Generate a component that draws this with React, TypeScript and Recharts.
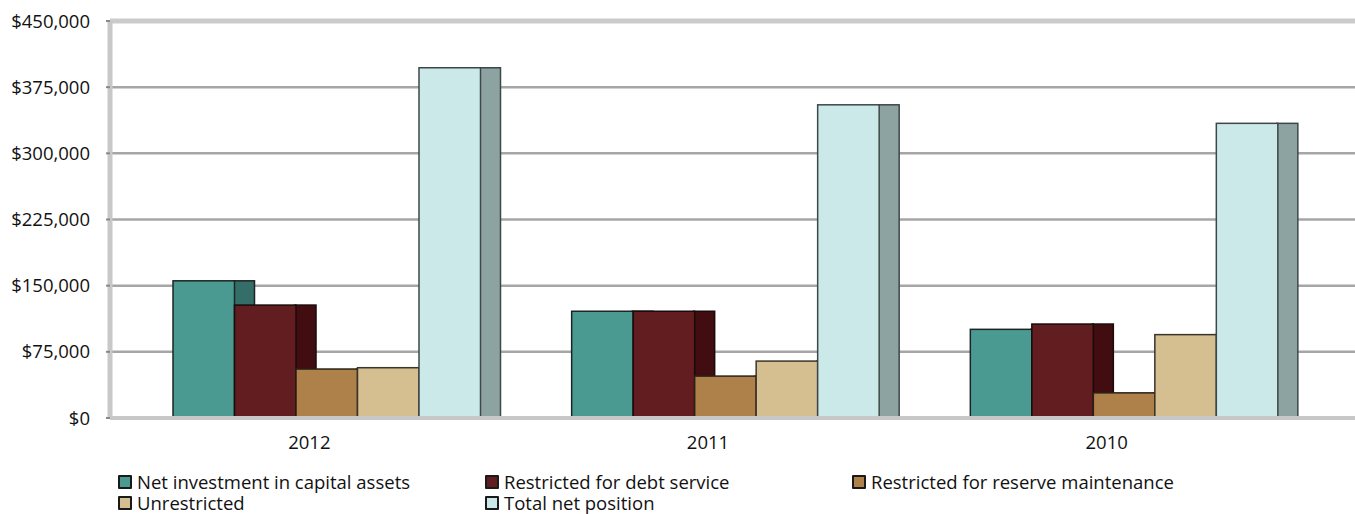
import { BarChart, Bar, XAxis, YAxis, CartesianGrid, ReferenceLine } from 'recharts'

const years = ['2012', '2011', '2010']
const netInvestment = [155500, 121000, 100500]
const debtService = [128000, 121000, 106500]
const reserveMaint = [55500, 47500, 28500]
const unrestricted = [57000, 64500, 94500]
const totalNet = [397000, 355000, 334000]
const yTicks = [0, 75000, 150000, 225000, 300000, 375000, 450000]

const series = [
  { key: 'net', name: 'Net investment in capital assets', values: netInvestment, fill: '#4a9a92', side: '#356e68', edge: '#1c2523' },
  { key: 'debt', name: 'Restricted for debt service', values: debtService, fill: '#611d1f', side: '#420d10', edge: '#1a0b0b' },
  { key: 'reserve', name: 'Restricted for reserve maintenance', values: reserveMaint, fill: '#ae804a', side: '#7d5a33', edge: '#2a2017' },
  { key: 'unres', name: 'Unrestricted', values: unrestricted, fill: '#d5bf91', side: '#a08f6b', edge: '#3a342a' },
  { key: 'total', name: 'Total net position', values: totalNet, fill: '#cce9e9', side: '#8da3a1', edge: '#3e4747' },
]

const data = years.map((year, i) => {
  const row: any = { year }
  series.forEach(s => { row[s.key] = s.values[i] })
  return row
})

const FONT = '"Open Sans", sans-serif'
const FS = 18.5
const DEPTH = 21
const SHIFT = 17

function Bar3D(props: any) {
  const { x, y, width, height, fill, side, edge } = props
  if (!height) return null
  const fx = x + SHIFT
  return (
    <g>
      <rect x={fx + width - 1} y={y} width={DEPTH} height={height} fill={side} stroke={edge} strokeWidth={1.5} />
      <rect x={fx} y={y} width={width} height={height} fill={fill} stroke={edge} strokeWidth={1.5} />
    </g>
  )
}

function ChartLegend() {
  return (
    <div style={{
      position: 'absolute', left: 118, top: 471,
      display: 'grid', gridTemplateColumns: 'repeat(3, 367px)',
      fontFamily: FONT, fontSize: FS, color: '#111', lineHeight: '21px',
    }}>
      {series.map(s => (
        <div key={s.key} style={{ display: 'flex', alignItems: 'center', whiteSpace: 'nowrap' }}>
          <span style={{
            width: 10, height: 10, background: s.fill, border: '2px solid #1a1a1a',
            borderRadius: 1, marginRight: 5, flexShrink: 0,
          }} />
          {s.name}
        </div>
      ))}
    </div>
  )
}

export default function App() {
  return (
    <div style={{ position: 'absolute', left: 0, top: 0, width: 1355, height: 514, background: '#fff' }}>
      <BarChart
        width={1355}
        height={470}
        data={data}
        margin={{ top: 21, right: 0, left: 0, bottom: 0 }}
        barSize={61.5}
        barGap={0}
      >
        <CartesianGrid vertical={false} stroke="#a6a6a6" strokeWidth={2.5} />
        <ReferenceLine y={450000} stroke="#cbcbcb" strokeWidth={5} />
        <XAxis
          dataKey="year"
          padding={{ left: 0, right: 49 }}
          axisLine={{ stroke: '#c8c8c8', strokeWidth: 4 }}
          tickLine={false}
          tickSize={0}
          tickMargin={18}
          height={52}
          tick={{ fontSize: FS, fill: '#111', fontFamily: FONT }}
        />
        <YAxis
          domain={[0, 450000]}
          ticks={yTicks}
          width={110}
          axisLine={{ stroke: '#c8c8c8', strokeWidth: 5 }}
          tickLine={{ stroke: '#888', strokeWidth: 2 }}
          tickSize={4}
          tickMargin={16}
          tickFormatter={(v: number) => `$${v.toLocaleString('en-US')}`}
          tick={{ fontSize: FS, fill: '#111', fontFamily: FONT }}
        />
        {series.map(s => (
          <Bar
            key={s.key}
            dataKey={s.key}
            name={s.name}
            fill={s.fill}
            isAnimationActive={false}
            shape={(p: any) => <Bar3D {...p} fill={s.fill} side={s.side} edge={s.edge} />}
          />
        ))}
      </BarChart>
      <ChartLegend />
    </div>
  )
}
